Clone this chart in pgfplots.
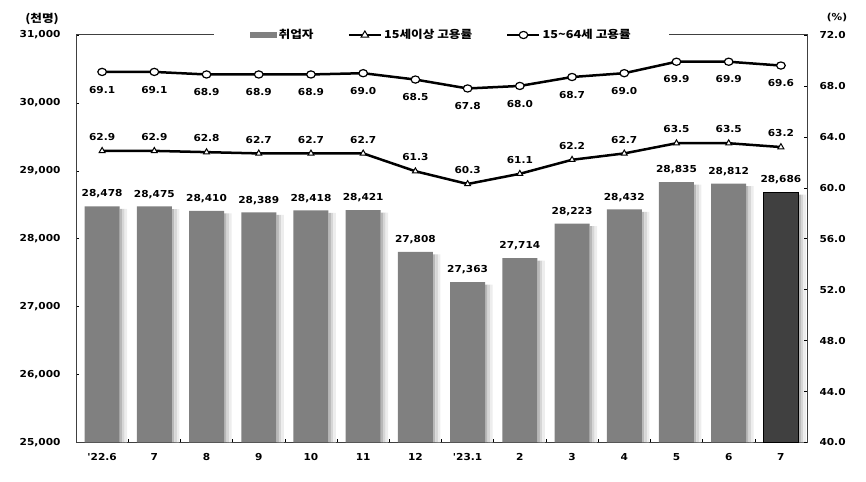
\documentclass[border=0pt]{standalone}
\usepackage{fontspec}
\setmainfont{DejaVu Sans}
\newfontfamily\numfont{DejaVu Sans}[FakeStretch=1.1]
\newfontfamily\kr{Noto Sans CJK KR}[FakeStretch=1.15]
\usepackage{pgfplots}
\pgfplotsset{compat=1.18}
\definecolor{barg}{HTML}{808080}
\definecolor{bardk}{HTML}{404040}
\newcommand{\nf}{\numfont\bfseries\fontsize{9.6bp}{11bp}\selectfont}
\newcommand{\kf}{\kr\bfseries\fontsize{11bp}{12bp}\selectfont}
\pgfplotsset{/pgf/number format/assume math mode=true}
\begin{document}
\begin{tikzpicture}[x=1bp,y=1bp]
\useasboundingbox (0,0) rectangle (866,482);
\begin{axis}[
  at={(76bp,39.5bp)}, anchor=south west,
  width=731bp, height=407.5bp, scale only axis,
  xmin=-0.5, xmax=13.5, ymin=25000, ymax=31000,
  ytick={25000,26000,...,31000},
  scaled y ticks=false,
  yticklabel style={/pgf/number format/fixed, /pgf/number format/precision=0, /pgf/number format/1000 sep={,}, /tikz/xshift=-12bp},
  ytick pos=left, xtick pos=left,
  xtick={0.5,1.5,...,12.5}, xticklabels={},
  extra x ticks={0,...,13},
  extra x tick labels={'22.6,7,8,9,10,11,12,'23.1,2,3,4,5,6,7},
  extra x tick style={major tick length=0pt},
  major tick length=3bp,
  tick style={black, line width=0.6bp},
  axis line style={black!75, line width=1bp},
  tick label style={font=\nf},
  xticklabel style={/tikz/yshift=-7bp},
  clip=true,
]
% shadows
\addplot[ybar, bar width=2.5bp, bar shift=18.75bp, fill=black!28, draw=none] coordinates {
(0,28440)(1,28437)(2,28372)(3,28351)(4,28380)(5,28383)(6,27770)(7,27325)(8,27676)(9,28185)(10,28394)(11,28797)(12,28774)(13,28648)};
\addplot[ybar, bar width=2.5bp, bar shift=21.25bp, fill=black!16, draw=none] coordinates {
(0,28440)(1,28437)(2,28372)(3,28351)(4,28380)(5,28383)(6,27770)(7,27325)(8,27676)(9,28185)(10,28394)(11,28797)(12,28774)(13,28648)};
\addplot[ybar, bar width=2.5bp, bar shift=23.75bp, fill=black!7, draw=none] coordinates {
(0,28440)(1,28437)(2,28372)(3,28351)(4,28380)(5,28383)(6,27770)(7,27325)(8,27676)(9,28185)(10,28394)(11,28797)(12,28774)(13,28648)};
% bars
\addplot[ybar, bar width=35bp, bar shift=0bp, fill=barg, draw=none,
  nodes near coords,
  nodes near coords style={/pgf/number format/fixed, /pgf/number format/precision=0, /pgf/number format/1000 sep={,}},
  every node near coord/.append style={anchor=base, yshift=9.3bp, font=\nf, black}]
coordinates {
(0,28478)(1,28475)(2,28410)(3,28389)(4,28418)(5,28421)(6,27808)(7,27363)(8,27714)(9,28223)(10,28432)(11,28835)(12,28812)};
\addplot[ybar, bar width=35bp, bar shift=0bp, fill=bardk, draw=black, line width=1.3bp,
  nodes near coords,
  nodes near coords style={/pgf/number format/fixed, /pgf/number format/precision=0, /pgf/number format/1000 sep={,}},
  every node near coord/.append style={anchor=base, yshift=9.3bp, font=\nf, black}]
coordinates {(13,28686)};
\end{axis}
\begin{axis}[
  at={(76bp,39.5bp)}, anchor=south west,
  width=731bp, height=407.5bp, scale only axis,
  xmin=-0.5, xmax=13.5, ymin=40, ymax=72,
  ytick={40,44,...,72},
  axis y line*=right, axis x line=none,
  yticklabel style={/pgf/number format/fixed, /pgf/number format/fixed zerofill, /pgf/number format/precision=1, /tikz/xshift=9bp},
  major tick length=3bp,
  tick style={black, line width=0.6bp},
  axis line style={black!75, line width=1bp},
  tick label style={font=\nf},
  clip=false,
  legend style={at={(0.5,1)}, anchor=center, draw=none, fill=white,
    inner xsep=36bp, inner ysep=2bp, legend columns=3, font=\kf,
    /tikz/every even column/.append style={column sep=32bp}},
]
\addlegendimage{legend image code/.code={\fill[barg] (0bp,-2.6bp) rectangle (26bp,2.6bp);}}
\addlegendentry{취업자}
\addplot[black, line width=2.5bp, mark=triangle*,
  mark options={fill=white, draw=black, line width=1bp, solid}, mark size=3.4bp,
  nodes near coords,
  nodes near coords style={/pgf/number format/fixed, /pgf/number format/fixed zerofill, /pgf/number format/precision=1},
  every node near coord/.append style={anchor=base, yshift=10.3bp, font=\nf, black},
  legend image code/.code={\draw[black, line width=2.5bp] (0bp,0bp) -- (32bp,0bp);
    \draw[black, fill=white, line width=1bp] (12.2bp,-2.2bp) -- (19.8bp,-2.2bp) -- (16bp,4bp) -- cycle;}]
coordinates {
(0,62.9)(1,62.9)(2,62.8)(3,62.7)(4,62.7)(5,62.7)(6,61.3)(7,60.3)(8,61.1)(9,62.2)(10,62.7)(11,63.5)(12,63.5)(13,63.2)};
\addlegendentry{15세이상 고용률}
\addplot[black, line width=2.5bp, mark=*,
  mark options={fill=white, draw=black, line width=1.2bp, solid, xscale=1.2}, mark size=3.6bp,
  nodes near coords,
  nodes near coords style={/pgf/number format/fixed, /pgf/number format/fixed zerofill, /pgf/number format/precision=1},
  every node near coord/.append style={anchor=base, yshift=-21.2bp, font=\nf, black},
  legend image code/.code={\draw[black, line width=2.5bp] (0bp,0bp) -- (32bp,0bp);
    \draw[black, fill=white, line width=1.2bp] (16bp,0bp) ellipse (4.3bp and 3.6bp);}]
coordinates {
(0,69.1)(1,69.1)(2,68.9)(3,68.9)(4,68.9)(5,69.0)(6,68.5)(7,67.8)(8,68.0)(9,68.7)(10,69.0)(11,69.9)(12,69.9)(13,69.6)};
\addlegendentry{15\textasciitilde64세 고용률}
\end{axis}
\node[font=\kf] at (42bp,463bp) {(천명)};
\node[font=\nf] at (837bp,464bp) {(\%)};
\end{tikzpicture}
\end{document}
